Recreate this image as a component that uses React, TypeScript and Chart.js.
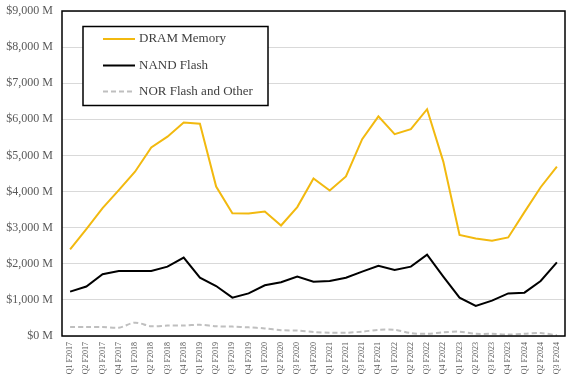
import React, { useEffect, useRef } from "react";
import { Chart, registerables } from "chart.js";

Chart.register(...registerables);

const quarters: string[] = [
  "Q1 F2017", "Q2 F2017", "Q3 F2017", "Q4 F2017",
  "Q1 F2018", "Q2 F2018", "Q3 F2018", "Q4 F2018",
  "Q1 F2019", "Q2 F2019", "Q3 F2019", "Q4 F2019",
  "Q1 F2020", "Q2 F2020", "Q3 F2020", "Q4 F2020",
  "Q1 F2021", "Q2 F2021", "Q3 F2021", "Q4 F2021",
  "Q1 F2022", "Q2 F2022", "Q3 F2022", "Q4 F2022",
  "Q1 F2023", "Q2 F2023", "Q3 F2023", "Q4 F2023",
  "Q1 F2024", "Q2 F2024", "Q3 F2024",
];

const dramMemory: number[] = [
  2400, 2960, 3540, 4040, 4550, 5220, 5520, 5910, 5880, 4140, 3400,
  3390, 3445, 3060, 3570, 4360, 4030, 4420, 5450, 6080, 5590, 5730,
  6280, 4830, 2800, 2700, 2640, 2730, 3430, 4120, 4690,
];

const nandFlash: number[] = [
  1230, 1370, 1710, 1800, 1800, 1800, 1920, 2170, 1615, 1385, 1061,
  1180, 1404, 1487, 1643, 1504, 1523, 1615, 1781, 1947, 1828, 1920,
  2252, 1643, 1061, 831, 978, 1180, 1200, 1523, 2040,
];

const norFlashOther: number[] = [
  250, 250, 250, 230, 370, 270, 290, 290, 310, 270, 260,
  240, 210, 160, 150, 110, 90, 90, 120, 170, 170, 80,
  60, 100, 120, 60, 60, 40, 60, 80, 20,
];

const seriesNames: string[] = ["DRAM Memory", "NAND Flash", "NOR Flash and Other"];
const seriesColors: string[] = ["#F2B90F", "#000000", "#BFBFBF"];

const FONT = "'Liberation Serif', 'Times New Roman', serif";

const boxPlugin = {
  id: "boxAndLegend",
  afterDraw(chart: any) {
    const { ctx, chartArea } = chart;
    ctx.save();
    // plot border
    ctx.strokeStyle = "#000000";
    ctx.lineWidth = 1.5;
    ctx.strokeRect(chartArea.left, chartArea.top, chartArea.right - chartArea.left, chartArea.bottom - chartArea.top);

    // legend box
    const bx = chartArea.left + 21;
    const by = chartArea.top + 15.5;
    const bw = 185;
    const bh = 79;
    ctx.fillStyle = "#ffffff";
    ctx.fillRect(bx, by, bw, bh);
    ctx.lineWidth = 1.5;
    ctx.strokeStyle = "#000000";
    ctx.strokeRect(bx, by, bw, bh);

    const rows = [12.5, 39, 65];
    chart.data.datasets.forEach((ds: any, i: number) => {
      const y = by + rows[i];
      ctx.beginPath();
      ctx.strokeStyle = ds.borderColor;
      ctx.lineWidth = 2;
      ctx.setLineDash(ds.borderDash || []);
      ctx.moveTo(bx + 20, y);
      ctx.lineTo(bx + 52, y);
      ctx.stroke();
      ctx.setLineDash([]);
      ctx.fillStyle = "#404040";
      ctx.font = `13px ${FONT}`;
      ctx.textBaseline = "middle";
      ctx.textAlign = "left";
      ctx.fillText(ds.label, bx + 56, y);
    });
    ctx.restore();
  },
};

export default function App() {
  const canvasRef = useRef<HTMLCanvasElement | null>(null);

  useEffect(() => {
    if (!canvasRef.current) return;
    const chart = new Chart(canvasRef.current, {
      type: "line",
      data: {
        labels: quarters,
        datasets: [
          {
            label: seriesNames[0],
            data: dramMemory,
            borderColor: seriesColors[0],
            borderWidth: 2,
            pointRadius: 0,
            tension: 0,
            fill: false,
          },
          {
            label: seriesNames[1],
            data: nandFlash,
            borderColor: seriesColors[1],
            borderWidth: 2,
            pointRadius: 0,
            tension: 0,
            fill: false,
          },
          {
            label: seriesNames[2],
            data: norFlashOther,
            borderColor: seriesColors[2],
            borderWidth: 2,
            borderDash: [5, 3],
            pointRadius: 0,
            tension: 0.3,
            fill: false,
          },
        ],
      },
      options: {
        animation: false,
        responsive: false,
        maintainAspectRatio: false,
        layout: { padding: { top: 11, right: 8, left: 0, bottom: 0 } },
        plugins: {
          legend: { display: false },
          tooltip: { enabled: false },
        },
        scales: {
          x: {
            offset: true,
            grid: { display: false, drawTicks: false },
            border: { display: false },
            ticks: {
              autoSkip: false,
              maxRotation: 90,
              minRotation: 90,
              padding: 6,
              color: "#595959",
              font: { family: FONT, size: 8 },
            },
            afterFit: (s: any) => {
              s.height = 48;
            },
          },
          y: {
            min: 0,
            max: 9000,
            grid: {
              color: "#D9D9D9",
              lineWidth: 1,
              drawTicks: true,
              tickLength: 9,
              tickColor: "rgba(0,0,0,0)",
            },
            border: { display: false },
            ticks: {
              stepSize: 1000,
              padding: 0,
              color: "#595959",
              font: { family: FONT, size: 12 },
              callback: (v: any) => "$" + Number(v).toLocaleString("en-US") + " M",
            },
            afterFit: (s: any) => {
              s.width = 62;
            },
          },
        },
      },
      plugins: [boxPlugin],
    });
    return () => chart.destroy();
  }, []);

  return (
    <div style={{ position: "fixed", left: 0, top: 0, width: 573, height: 384, background: "#fff" }}>
      <canvas ref={canvasRef} width={573} height={384} style={{ display: "block" }} />
    </div>
  );
}
